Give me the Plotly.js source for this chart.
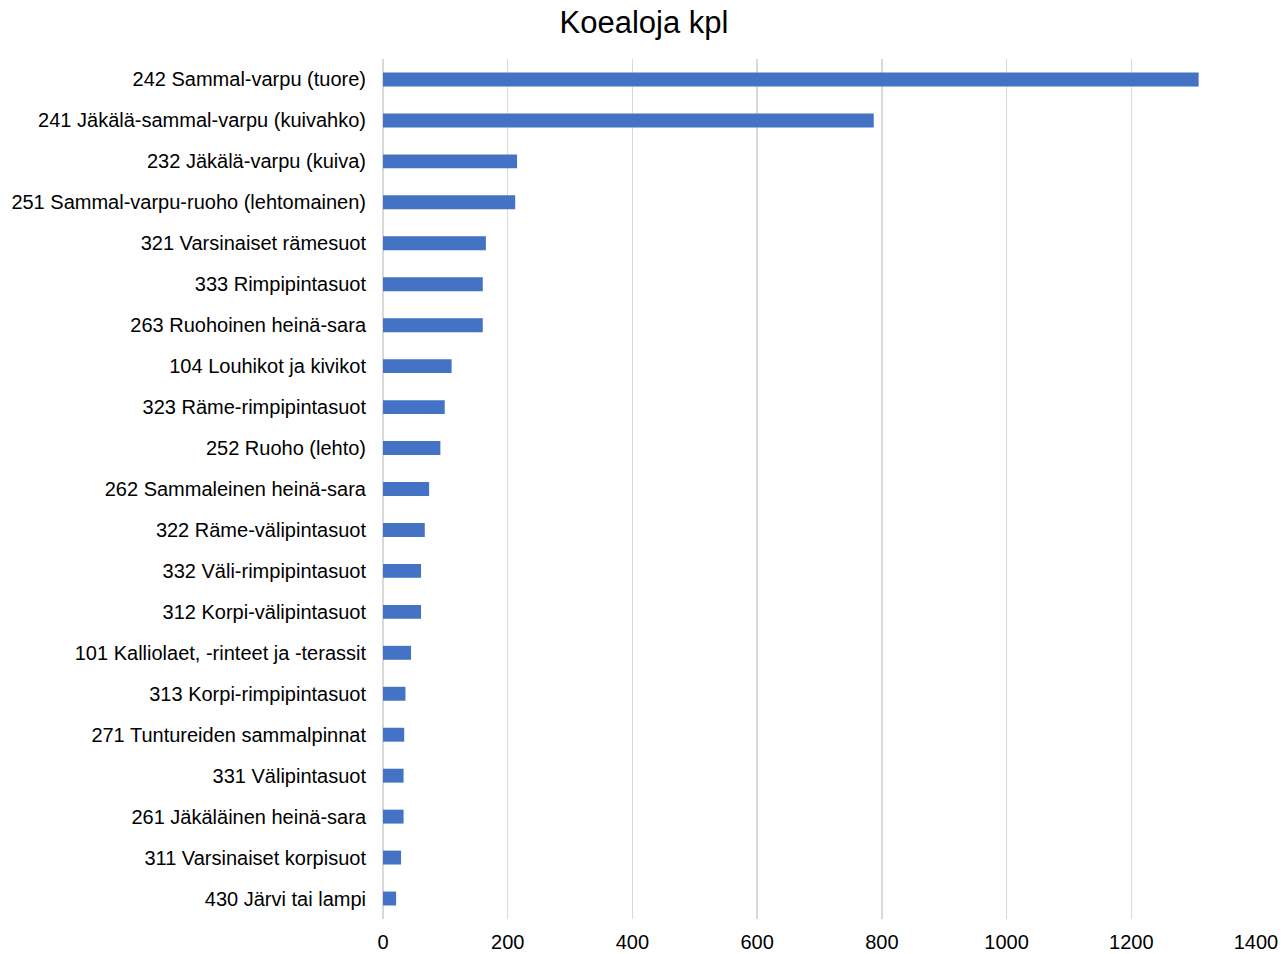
<!DOCTYPE html>
<html>
<head>
<meta charset="utf-8">
<script src="https://cdn.plot.ly/plotly-3.0.1.min.js"></script>
<style>html,body{margin:0;padding:0;background:#fff;}#chart{width:1288px;height:954px;}</style>
</head>
<body>
<div id="chart"></div>
<script>
const categories = [
  "242 Sammal-varpu (tuore)",
  "241 Jäkälä-sammal-varpu (kuivahko)",
  "232 Jäkälä-varpu (kuiva)",
  "251 Sammal-varpu-ruoho (lehtomainen)",
  "321 Varsinaiset rämesuot",
  "333 Rimpipintasuot",
  "263 Ruohoinen heinä-sara",
  "104 Louhikot ja kivikot",
  "323 Räme-rimpipintasuot",
  "252 Ruoho (lehto)",
  "262 Sammaleinen heinä-sara",
  "322 Räme-välipintasuot",
  "332 Väli-rimpipintasuot",
  "312 Korpi-välipintasuot",
  "101 Kalliolaet, -rinteet ja -terassit",
  "313 Korpi-rimpipintasuot",
  "271 Tuntureiden sammalpinnat",
  "331 Välipintasuot",
  "261 Jäkäläinen heinä-sara",
  "311 Varsinaiset korpisuot",
  "430 Järvi tai lampi"
];
const counts = [1308, 787, 215, 212, 165, 160, 160, 110, 99, 92, 74, 67, 61, 61, 45, 36, 34, 33, 33, 29, 21];
const xTicks = [0, 200, 400, 600, 800, 1000, 1200, 1400];
const chartTitle = "Koealoja kpl";

const trace = {
  type: "bar",
  orientation: "h",
  y: categories,
  x: counts,
  marker: {color: "#4472C4", line: {width: 0}},
  hoverinfo: "x+y"
};

const layout = {
  width: 1288,
  height: 954,
  paper_bgcolor: "#ffffff",
  plot_bgcolor: "#ffffff",
  font: {family: "Liberation Sans, Arial, sans-serif", size: 20, color: "#000000"},
  title: {text: chartTitle, font: {size: 31, color: "#000000"}, x: 0.5, xanchor: "center", y: 0.977, yanchor: "middle"},
  margin: {l: 383, r: 32, t: 59, b: 35, pad: 0},
  bargap: 0.66,
  showlegend: false,
  xaxis: {
    range: [0, 1400],
    tickvals: xTicks,
    ticktext: xTicks.map(String),
    showgrid: true,
    gridcolor: "#d9d9d9",
    gridwidth: 1.5,
    zeroline: true,
    zerolinecolor: "#d9d9d9",
    zerolinewidth: 1.5,
    showline: false,
    ticks: "outside",
    ticklen: 5,
    tickcolor: "rgba(0,0,0,0)",
    tickfont: {size: 20}
  },
  yaxis: {
    type: "category",
    autorange: "reversed",
    showgrid: false,
    zeroline: false,
    showline: false,
    ticks: "outside",
    ticklen: 12,
    tickcolor: "rgba(0,0,0,0)",
    tickfont: {size: 20}
  }
};

Plotly.newPlot("chart", [trace], layout, {displayModeBar: false, staticPlot: true});
</script>
</body>
</html>
